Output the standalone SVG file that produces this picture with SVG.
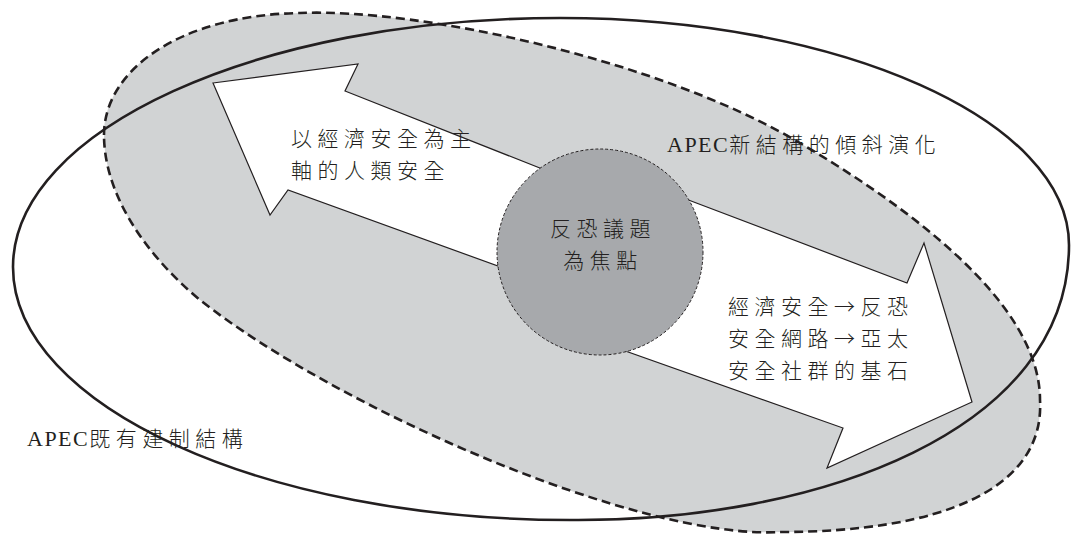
<svg xmlns="http://www.w3.org/2000/svg" width="1073" height="535" viewBox="0 0 1073 535">
<defs>
<style>
.bg{fill:#ffffff}
.newfill{fill:#d1d3d4;stroke:none}
.dashline{fill:none;stroke:#231f20;stroke-width:2.6;stroke-dasharray:9 5}
.solid{fill:none;stroke:#231f20;stroke-width:2.6}
.arrow{fill:#ffffff;stroke:#231f20;stroke-width:1.2;stroke-linejoin:miter}
.focus{fill:#a7a9ac;stroke:#231f20;stroke-width:1;stroke-dasharray:3 2}
.t{font-family:"Noto Sans CJK TC","Liberation Serif",sans-serif;font-size:21px;font-weight:300;fill:#231f20;letter-spacing:5.5px}
.lat{font-family:"Liberation Serif",serif;font-size:22px;font-weight:400;letter-spacing:1.5px}
</style>
</defs>
<rect class="bg" x="0" y="0" width="1073" height="535"/>
<g id="new-structure-area">
<path class="newfill" d="M104,135 C104,70 180,15 300,13 C420,8 660,60 800,143 C900,202 1040,300 1040,400 C1045,490 940,532 780,532 C640,540 340,410 200,300 C140,250 104,190 104,135 Z"/>
</g>
<g id="existing-structure">
<path class="solid" d="M13,267 C13,130 258,18 560,18 C840,18 1069,120 1069,245 C1069,430 820,522 570,520 C264,520 13,406 13,267 Z"/>
<text class="t" x="27" y="446"><tspan class="lat">APEC</tspan>既有建制結構</text>
</g>
<g id="new-structure">
<path class="dashline" d="M104,135 C104,70 180,15 300,13 C420,8 660,60 800,143 C900,202 1040,300 1040,400 C1045,490 940,532 780,532 C640,540 340,410 200,300 C140,250 104,190 104,135 Z"/>
<text class="t" x="667" y="152"><tspan class="lat">APEC</tspan>新結構的傾斜演化</text>
</g>
<g id="security-arrow">
<polygon class="arrow" points="213,83 358,64 345,91 560,176 670,193 907,283 924,243 972,402 827,468 843,428 600,342 520,274 288,190 270,215"/>
<text class="t" x="291" y="146">以經濟安全為主</text>
<text class="t" x="291" y="178">軸的人類安全</text>
<text class="t" x="728" y="314">經濟安全→反恐</text>
<text class="t" x="728" y="346">安全網路→亞太</text>
<text class="t" x="728" y="378">安全社群的基石</text>
</g>
<g id="focus">
<circle class="focus" cx="600" cy="252" r="103"/>
<text class="t" x="603" y="236" text-anchor="middle">反恐議題</text>
<text class="t" x="603" y="268" text-anchor="middle">為焦點</text>
</g>
<g id="connectors"/>
</svg>
